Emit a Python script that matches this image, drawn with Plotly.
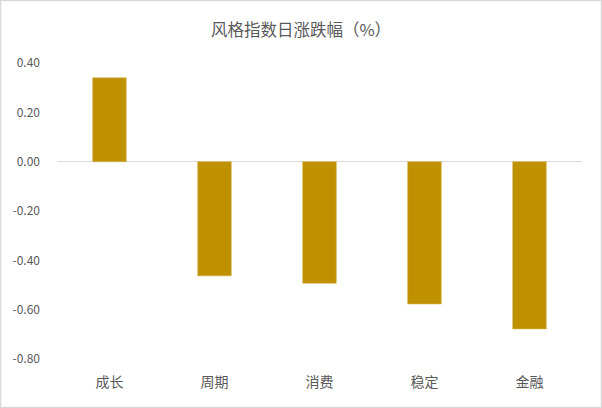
import plotly.graph_objects as go

categories = ["成长", "周期", "消费", "稳定", "金融"]
values = [0.34, -0.463, -0.493, -0.577, -0.678]
tick_vals = [0.4, 0.2, 0.0, -0.2, -0.4, -0.6, -0.8]
tick_text = ["0.40", "0.20", "0.00", "-0.20", "-0.40", "-0.60", "-0.80"]

W, H = 602, 408
ml, mr, mt, mb = 57, 20, 63, 49
pw, ph = W - ml - mr, H - mt - mb

font = "Noto Sans CJK SC, Microsoft YaHei, sans-serif"
grey = "#595959"

fig = go.Figure(go.Bar(
    x=categories, y=values,
    marker=dict(color="#BF9000", line=dict(color="#D4B24C", width=0.6)),
    width=0.32,
))

fig.update_layout(
    width=W, height=H,
    margin=dict(l=ml, r=mr, t=mt, b=mb),
    paper_bgcolor="white", plot_bgcolor="white",
    showlegend=False,
    title=dict(text="风格指数日涨跌幅（%）", x=0.5, xref="container", xanchor="center",
               y=1 - 30 / H, yanchor="middle", yref="container",
               font=dict(family=font, size=16.5, color=grey)),
    font=dict(family=font, size=12, color=grey),
    xaxis=dict(showgrid=False, showline=False, zeroline=False, ticks="",
               tickfont=dict(family=font, size=14, color=grey), ticklabelstandoff=13),
    yaxis=dict(range=[-0.8, 0.4], tickvals=tick_vals, ticktext=tick_text,
               showgrid=False, showline=False, zeroline=True, zerolinecolor="#D9D9D9",
               zerolinewidth=1, ticks="", tickfont=dict(family=font, size=12, color=grey),
               ticklabelstandoff=16),
    shapes=[dict(type="rect", xref="paper", yref="paper",
                 x0=(0.5 - ml) / pw, x1=(W - 0.5 - ml) / pw,
                 y0=-(mb - 0.5) / ph, y1=(H - mb - 0.5) / ph,
                 line=dict(color="#D9D9D9", width=1.5), layer="below")],
)

fig.write_html("out.html")
